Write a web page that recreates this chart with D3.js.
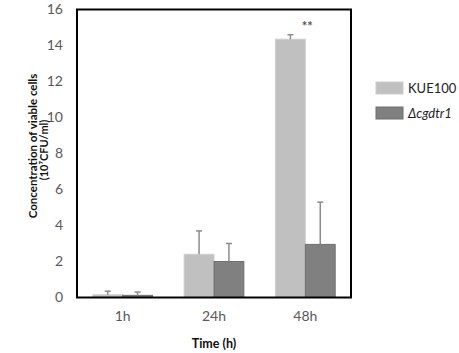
<!DOCTYPE html>
<html>
<head>
<meta charset="utf-8">
<script src="https://cdn.jsdelivr.net/npm/d3@7"></script>
<style>
  body { margin: 0; background: #fff; }
  text { font-family: Lato, "Open Sans", sans-serif; }
</style>
</head>
<body>
<div id="chart"></div>
<script>
const times = ["1h", "24h", "48h"];
const seriesNames = ["KUE100", "Δcgdtr1"];
const kueValues = [0.15, 2.4, 14.35];
const kueErrors = [0.2, 1.3, 0.25];
const mutValues = [0.12, 2.0, 2.95];
const mutErrors = [0.18, 1.0, 2.35];
const yTicks = [0, 2, 4, 6, 8, 10, 12, 14, 16];

const width = 459, height = 353;
const margin = {top: 9.5, right: 108, bottom: 55.5, left: 77};

const svg = d3.select("#chart").append("svg")
    .attr("width", width)
    .attr("height", height);

const x = d3.scaleBand().domain(times)
    .range([margin.left, width - margin.right]);
const inner = d3.scaleBand().domain(seriesNames)
    .range([0, x.bandwidth()]).paddingInner(0).paddingOuter(0.53);
const y = d3.scaleLinear().domain([0, 16])
    .range([height - margin.bottom, margin.top]);

const colors = {"KUE100": "#c0c0c0", "Δcgdtr1": "#808080"};
const strokes = {"KUE100": "#cdcdcd", "Δcgdtr1": "#6e6e6e"};

const rows = [];
times.forEach((t, i) => {
    rows.push({time: t, series: "KUE100", value: kueValues[i], err: kueErrors[i]});
    rows.push({time: t, series: "Δcgdtr1", value: mutValues[i], err: mutErrors[i]});
});

// bars
svg.append("g").selectAll("rect").data(rows).join("rect")
    .attr("x", d => x(d.time) + inner(d.series))
    .attr("y", d => y(d.value))
    .attr("width", inner.bandwidth())
    .attr("height", d => y(0) - y(d.value))
    .attr("fill", d => colors[d.series])
    .attr("stroke", d => strokes[d.series])
    .attr("stroke-width", 1);

// error bars
const eb = svg.append("g").attr("stroke", "#8c8c8c").attr("stroke-width", 1.5);
const cx = d => x(d.time) + inner(d.series) + inner.bandwidth() / 2;
eb.selectAll("line.v").data(rows).join("line")
    .attr("class", "v")
    .attr("x1", cx).attr("x2", cx)
    .attr("y1", d => y(d.value))
    .attr("y2", d => y(d.value + d.err));
eb.selectAll("line.c").data(rows).join("line")
    .attr("class", "c")
    .attr("x1", d => cx(d) - 3)
    .attr("x2", d => cx(d) + 3)
    .attr("y1", d => y(d.value + d.err))
    .attr("y2", d => y(d.value + d.err));

// frame
svg.append("rect")
    .attr("x", margin.left)
    .attr("y", margin.top)
    .attr("width", width - margin.left - margin.right)
    .attr("height", y(0) - margin.top)
    .attr("fill", "none")
    .attr("stroke", "#000")
    .attr("stroke-width", 2);

// y axis
const yAxis = svg.append("g")
    .attr("transform", `translate(${margin.left},0)`)
    .call(d3.axisLeft(y).tickValues(yTicks).tickSize(0).tickPadding(14));
yAxis.select(".domain").remove();
yAxis.selectAll("text")
    .attr("fill", "#595959")
    .style("font-size", "14px")
    .style("font-family", "Lato, 'Open Sans', sans-serif");

// x axis
const xAxis = svg.append("g")
    .attr("transform", `translate(0,${y(0)})`)
    .call(d3.axisBottom(x).tickSize(0).tickPadding(14));
xAxis.select(".domain").remove();
xAxis.selectAll("text")
    .attr("fill", "#595959")
    .style("font-size", "14px")
    .style("font-family", "Lato, 'Open Sans', sans-serif");

// significance
svg.append("text")
    .attr("x", x("48h") + x.bandwidth() / 2 + 2)
    .attr("y", 31)
    .attr("text-anchor", "middle")
    .attr("fill", "#555")
    .attr("font-weight", "bold")
    .style("font-size", "13px")
    .text("**");

// axis titles
svg.append("text")
    .attr("x", (margin.left + width - margin.right) / 2)
    .attr("y", 348)
    .attr("text-anchor", "middle")
    .attr("font-weight", "bold")
    .attr("fill", "#111")
    .style("font-size", "12.5px")
    .text("Time (h)");

svg.append("text")
    .attr("transform", "translate(37,146) rotate(-90)")
    .attr("text-anchor", "middle")
    .attr("font-weight", "bold")
    .attr("fill", "#111")
    .style("font-size", "11.5px")
    .text("Concentration of viable cells");
svg.append("text")
    .attr("transform", "translate(48,150) rotate(-90)")
    .attr("text-anchor", "middle")
    .attr("font-weight", "bold")
    .attr("fill", "#111")
    .style("font-size", "11px")
    .text("(10\u2077CFU/ml)");

// legend
const lg = svg.append("g").attr("transform", "translate(376,82)");
seriesNames.forEach((s, i) => {
    const g = lg.append("g").attr("transform", `translate(0,${i * 25})`);
    g.append("rect")
        .attr("width", 27).attr("height", 12)
        .attr("fill", colors[s])
        .attr("stroke", strokes[s]);
    g.append("text")
        .attr("x", 32).attr("y", 11)
        .attr("fill", "#222")
        .style("font-size", "13px")
        .style("font-style", i === 1 ? "italic" : "normal")
        .text(s);
});
</script>
</body>
</html>
